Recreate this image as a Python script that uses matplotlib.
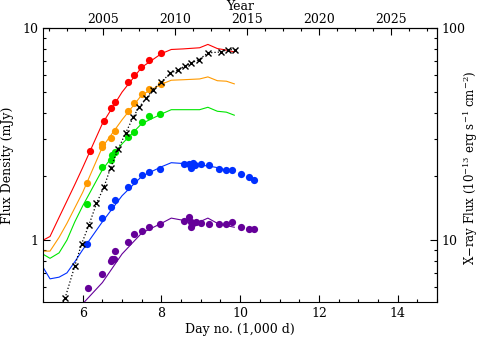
import numpy as np
import matplotlib
matplotlib.use('Agg')
import matplotlib.pyplot as plt
from matplotlib.ticker import FixedLocator, NullFormatter, LogLocator

plt.rcParams['font.family'] = ['DejaVu Serif']
plt.rcParams['font.size'] = 8
plt.rcParams['mathtext.fontset'] = 'dejavuserif'

# radio flux densities (mJy) at day no. / 1000
red_day = [6.18, 6.54, 6.73, 6.82, 7.15, 7.30, 7.49, 7.68, 7.98]
red_flux = [2.64, 3.65, 4.22, 4.48, 5.57, 6.01, 6.55, 7.07, 7.63]

orange_day = [6.11, 6.48, 6.50, 6.71, 6.83, 7.14, 7.30, 7.51, 7.68, 7.98]
orange_flux = [1.87, 2.84, 2.76, 3.05, 3.29, 4.07, 4.43, 4.89, 5.19, 5.47]

green_day = [6.11, 6.49, 6.71, 6.75, 6.82, 7.14, 7.30, 7.51, 7.68, 7.97]
green_flux = [1.48, 2.21, 2.39, 2.52, 2.61, 3.07, 3.25, 3.63, 3.87, 3.96]

blue_day = [6.11, 6.49, 6.73, 6.82, 7.14, 7.30, 7.51, 7.69, 7.97, 8.57, 8.71,
            8.76, 8.80, 8.84, 9.01, 9.22, 9.47, 9.64, 9.79, 10.02, 10.22, 10.36]
blue_flux = [0.954, 1.27, 1.44, 1.54, 1.79, 1.90, 2.03, 2.10, 2.17, 2.28, 2.29,
             2.18, 2.31, 2.26, 2.28, 2.26, 2.17, 2.14, 2.14, 2.045, 1.99, 1.92]

purple_day = [6.14, 6.48, 6.72, 6.75, 6.80, 6.82, 7.14, 7.30, 7.51, 7.69, 7.97,
              8.57, 8.71, 8.74, 8.74, 8.80, 8.87, 9.01, 9.22, 9.47, 9.64, 9.79,
              10.02, 10.22, 10.36]
purple_flux = [0.591, 0.695, 0.796, 0.816, 0.811, 0.884, 0.976, 1.064, 1.109,
               1.154, 1.193, 1.23, 1.28, 1.22, 1.148, 1.207, 1.22, 1.207, 1.19,
               1.186, 1.19, 1.22, 1.148, 1.124, 1.124]

# model curves
model_day = [5.0, 5.17, 5.4, 5.6, 5.8, 6.0, 6.5, 7.0, 7.5, 8.0, 8.25, 8.55,
             8.97, 9.18, 9.42, 9.65, 9.85]
red_model = [1.00, 1.04, 1.28, 1.53, 1.83, 2.2, 3.55, 5.0, 6.55, 7.6, 7.95, 8.0,
             8.1, 8.4, 8.03, 7.9, 7.74]
orange_model = [0.887, 0.887, 1.03, 1.2, 1.42, 1.68, 2.75, 3.7, 4.85, 5.45, 5.69,
                5.72, 5.77, 5.90, 5.66, 5.63, 5.47]
green_model = [0.856, 0.82, 0.87, 1.0, 1.22, 1.45, 2.15, 2.85, 3.55, 3.94, 4.13,
               4.13, 4.13, 4.24, 4.06, 4.02, 3.89]
blue_model = [0.74, 0.656, 0.668, 0.70, 0.79, 0.90, 1.22, 1.62, 2.0, 2.22, 2.32,
              2.30, 2.26, 2.24, 2.2, 2.14, 2.1]
purple_model_day = [5.8, 6.0, 6.5, 7.0, 7.5, 8.0, 8.25, 8.55, 8.97, 9.18, 9.42,
                    9.65, 9.85]
purple_model = [0.45, 0.50, 0.63, 0.86, 1.08, 1.2, 1.27, 1.24, 1.22, 1.27, 1.2,
                1.17, 1.15]

# X-ray flux (1e-13 erg s-1 cm-2)
xray_day = [5.55, 5.80, 5.97, 6.16, 6.35, 6.54, 6.71, 6.90, 7.09, 7.28, 7.44,
            7.62, 7.78, 8.00, 8.23, 8.42, 8.59, 8.76, 8.95, 9.18, 9.52, 9.68, 9.87]
xray_flux = [5.30, 7.56, 9.57, 11.8, 14.9, 17.8, 22.0, 26.9, 32.0, 38.0, 42.7,
             46.8, 51.4, 55.9, 61.6, 63.5, 66.3, 68.7, 71.2, 76.6, 77.4, 79.4, 79.4]

year_ticks = [2005, 2010, 2015, 2020, 2025]

colors = {'red': '#ff0000', 'orange': '#ff9a00', 'green': '#00e600',
          'blue': '#0030ff', 'purple': '#650099'}

fig = plt.figure(figsize=(4.84, 3.42), dpi=100)
ax = fig.add_axes([0.0895, 0.117, 0.8135, 0.800])

series = [(red_day, red_flux, model_day, red_model, 'red'),
          (orange_day, orange_flux, model_day, orange_model, 'orange'),
          (green_day, green_flux, model_day, green_model, 'green'),
          (blue_day, blue_flux, model_day, blue_model, 'blue'),
          (purple_day, purple_flux, purple_model_day, purple_model, 'purple')]
for d, f, md, mf, c in series:
    ax.plot(md, mf, '-', color=colors[c], lw=0.8)
    ax.plot(d, f, 'o', color=colors[c], ms=5.2, mec='none')

ax.set_xlim(5, 15)
ax.set_yscale('log')
ax.set_ylim(0.51, 10)

# x-ray on right axis (x10 scale), drawn in left-axis units
ax.plot(xray_day, np.array(xray_flux) / 10.0, ':', color='black', lw=0.9)
ax.plot(xray_day, np.array(xray_flux) / 10.0, 'x', color='black', ms=5, mew=1.0)

ax.xaxis.set_major_locator(FixedLocator([6, 8, 10, 12, 14]))
ax.xaxis.set_minor_locator(FixedLocator(np.arange(5, 15.01, 0.5)))
ax.yaxis.set_major_locator(FixedLocator([1, 10]))
ax.yaxis.set_major_formatter(plt.FuncFormatter(lambda v, p: '%g' % v))
ax.yaxis.set_minor_locator(LogLocator(base=10, subs=np.arange(2, 10)))
ax.yaxis.set_minor_formatter(NullFormatter())
ax.tick_params(which='both', direction='in', top=False, right=False, labelsize=9)
ax.tick_params(which='major', length=5, width=0.8)
ax.tick_params(which='minor', length=2.5, width=0.8)

ax.set_xlabel('Day no. (1,000 d)', labelpad=2, fontsize=9)
ax.set_ylabel('Flux Density (mJy)', labelpad=6, fontsize=9)

# top year axis
t0 = 1987.146
sec_x = ax.secondary_xaxis('top', functions=(lambda x: t0 + x * 1000 / 365.25,
                                             lambda y: (y - t0) * 365.25 / 1000))
sec_x.xaxis.set_major_locator(FixedLocator(year_ticks))
sec_x.xaxis.set_minor_locator(FixedLocator(np.arange(2000, 2030.1, 1.25)))
sec_x.tick_params(which='both', direction='in', labelsize=9)
sec_x.tick_params(which='major', length=5, width=0.8, pad=2)
sec_x.tick_params(which='minor', length=2.5, width=0.8)
fig.text(240 / 484, 1 - 6 / 342, 'Year', ha='center', va='center', fontsize=9)

# right x-ray axis
sec_y = ax.secondary_yaxis('right', functions=(lambda y: y * 10, lambda y: y / 10))
sec_y.set_yscale('log')
sec_y.yaxis.set_major_locator(FixedLocator([10, 100]))
sec_y.yaxis.set_major_formatter(plt.FuncFormatter(lambda v, p: '%g' % v))
sec_y.yaxis.set_minor_locator(LogLocator(base=10, subs=np.arange(2, 10)))
sec_y.yaxis.set_minor_formatter(NullFormatter())
sec_y.tick_params(which='both', direction='in', labelsize=9)
sec_y.tick_params(which='major', length=5, width=0.8)
sec_y.tick_params(which='minor', length=2.5, width=0.8)
fig.text(471 / 484, 1 - 168 / 342,
         'X\u2212ray Flux (10$^{-13}$ erg s$^{-1}$ cm$^{-2}$)',
         rotation=90, ha='center', va='center', fontsize=8.5)

fig.savefig('out.png', dpi=100)
